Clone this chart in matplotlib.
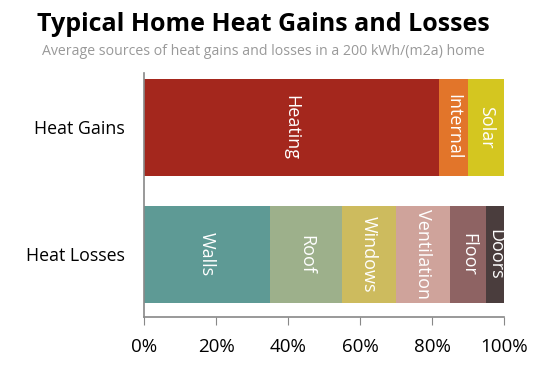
import matplotlib.pyplot as plt

# data (percent of total)
categories = ['Heat Losses', 'Heat Gains']
gain_names = ['Heating', 'Internal', 'Solar']
gain_values = [82, 8, 10]
gain_colors = ['#a4271d', '#e2752a', '#d4c620']
loss_names = ['Walls', 'Roof', 'Windows', 'Ventilation', 'Floor', 'Doors']
loss_values = [35, 20, 15, 15, 10, 5]
loss_colors = ['#5e9a95', '#9db08b', '#cdbb5e', '#cfa39b', '#8e6363', '#4a3d3d']
xticks = [0, 20, 40, 60, 80, 100]

plt.rcParams['font.family'] = ['Open Sans', 'DejaVu Sans']

fig = plt.figure(figsize=(5.52, 3.71), dpi=100)
ax = fig.add_axes([0.261, 0.1456, 0.652, 0.657])


def draw_row(y, names, values, colors):
    left = 0
    for name, val, col in zip(names, values, colors):
        ax.barh(y, val, left=left, height=0.765, color=col, edgecolor='none')
        ax.text(left + val / 2, y, name, rotation=-90, ha='center', va='center',
                color='white', fontsize=13)
        left += val


draw_row(1, gain_names, gain_values, gain_colors)
draw_row(0, loss_names, loss_values, loss_colors)

ax.set_xlim(0, 100)
ax.set_ylim(-0.496, 1.425)
ax.set_xticks(xticks)
ax.set_xticklabels([f'{t}%' for t in xticks], fontsize=13.5)
ax.set_yticks([0, 1])
ax.set_yticklabels(categories, fontsize=12.8)
ax.tick_params(axis='y', length=0, pad=14)
ax.tick_params(axis='x', length=6, color='#888888', pad=9)
for s in ['top', 'right']:
    ax.spines[s].set_visible(False)
for s in ['left', 'bottom']:
    ax.spines[s].set_color('#888888')
    ax.spines[s].set_linewidth(1.2)

fig.text(0.478, 0.935, 'Typical Home Heat Gains and Losses', ha='center', va='center',
         fontsize=18, fontweight='bold', color='black')
fig.text(0.478, 0.86, 'Average sources of heat gains and losses in a 200 kWh/(m2a) home',
         ha='center', va='center', fontsize=10.2, color='#999999')

plt.savefig('out.png', dpi=100)
